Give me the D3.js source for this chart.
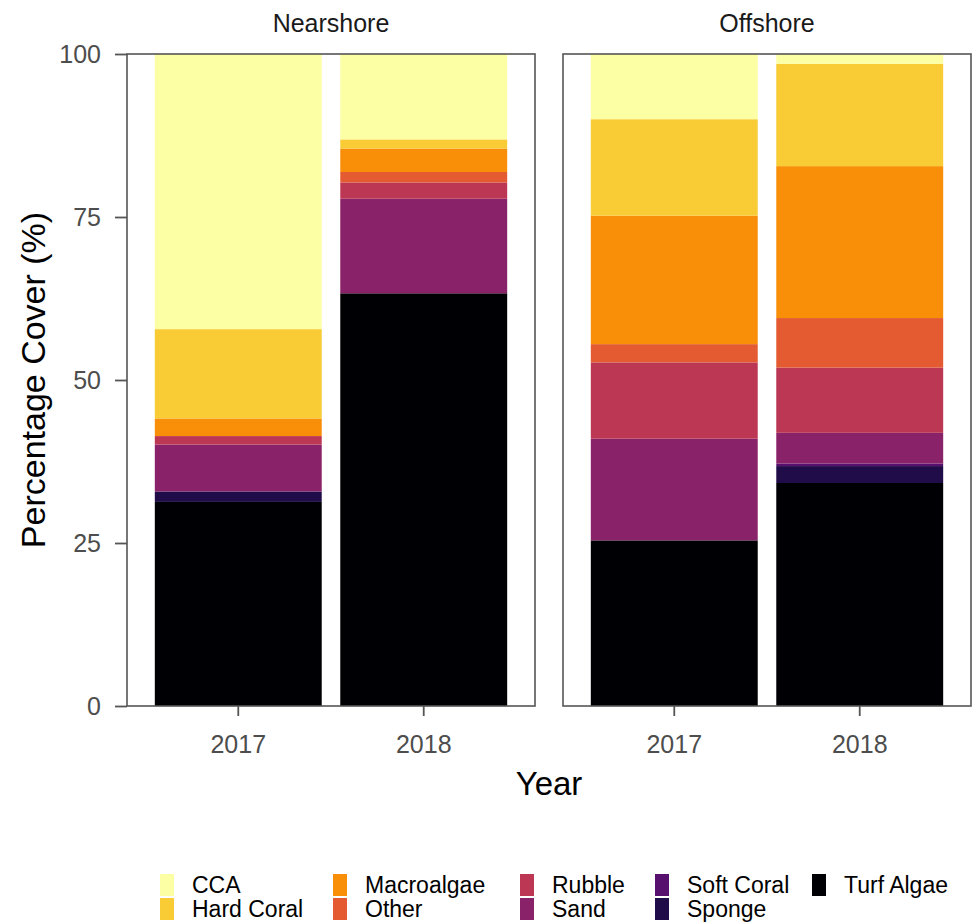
<!DOCTYPE html>
<html>
<head>
<meta charset="utf-8">
<script src="https://cdn.jsdelivr.net/npm/d3@7"></script>
<style>
  body { margin: 0; background: #fff; }
  text { font-family: "Liberation Sans", Arial, sans-serif; }
</style>
</head>
<body>
<div id="chart"></div>
<script>
// data, bars in order: Nearshore 2017, Nearshore 2018, Offshore 2017, Offshore 2018
const sites = ['Nearshore', 'Offshore'];
const years = ['2017', '2018'];
const categories = ['CCA', 'Hard Coral', 'Macroalgae', 'Other', 'Rubble', 'Sand', 'Soft Coral', 'Sponge', 'Turf Algae'];
const cca        = [42.2, 13.1, 10.0, 1.5];
const hardCoral  = [13.7, 1.4, 14.8, 15.7];
const macroalgae = [2.7, 3.6, 19.7, 23.3];
const other      = [0.0, 1.6, 2.8, 7.6];
const rubble     = [1.3, 2.5, 11.7, 10.0];
const sand       = [7.2, 14.5, 15.6, 4.7];
const softCoral  = [0.0, 0.0, 0.0, 0.4];
const sponge     = [1.6, 0.0, 0.0, 2.6];
const turfAlgae  = [31.3, 63.3, 25.4, 34.2];
const yTicks = [0, 25, 50, 75, 100];

const seriesByCat = {
    'CCA': cca, 'Hard Coral': hardCoral, 'Macroalgae': macroalgae, 'Other': other,
    'Rubble': rubble, 'Sand': sand, 'Soft Coral': softCoral, 'Sponge': sponge, 'Turf Algae': turfAlgae
};

const rows = [];
sites.forEach((s, si) => {
    years.forEach((y, yi) => {
        const r = { site: s, year: y };
        categories.forEach(c => { r[c] = seriesByCat[c][si * 2 + yi]; });
        rows.push(r);
    });
});

const width = 979, height = 923;
const panelTop = 54, panelBottom = 706;
const panelW = 408;
const panelX = [127, 563];

const svg = d3.select('#chart').append('svg')
    .attr('width', width)
    .attr('height', height);

const color = d3.scaleOrdinal()
    .domain(categories)
    .range(categories.map((c, i) => d3.interpolateInferno(1 - i / 8)));

const x = d3.scaleBand().domain(years).range([0, panelW])
    .paddingInner(0.1).paddingOuter(0.15);
const y = d3.scaleLinear().domain([0, 100]).range([panelBottom - panelTop, 0]);

// stack bottom-up: Turf Algae first
const stack = d3.stack().keys(categories.slice().reverse());

sites.forEach((site, si) => {
    const g = svg.append('g')
        .attr('transform', 'translate(' + panelX[si] + ',' + panelTop + ')');
    const siteRows = rows.filter(r => r.site === site);
    const layers = stack(siteRows);

    g.selectAll('g.layer')
        .data(layers)
        .enter().append('g')
        .attr('class', 'layer')
        .attr('fill', d => color(d.key))
        .selectAll('rect')
        .data(d => d)
        .enter().append('rect')
        .attr('x', d => x(d.data.year))
        .attr('width', x.bandwidth())
        .attr('y', d => y(d[1]))
        .attr('height', d => y(d[0]) - y(d[1]));

    // panel border
    g.append('rect')
        .attr('x', 0).attr('y', 0)
        .attr('width', panelW).attr('height', panelBottom - panelTop)
        .attr('fill', 'none')
        .attr('stroke', '#555')
        .attr('stroke-width', 1.6);

    // x axis
    const xa = g.append('g')
        .attr('transform', 'translate(0,' + (panelBottom - panelTop) + ')')
        .call(d3.axisBottom(x).tickSize(10).tickPadding(19));
    xa.select('.domain').remove();
    xa.selectAll('line').attr('stroke', '#555').attr('stroke-width', 1.8);
    xa.selectAll('text').attr('fill', '#4d4d4d').style('font-size', '25px');

    if (si === 0) {
        const ya = g.append('g')
            .call(d3.axisLeft(y).tickValues(yTicks).tickSize(12).tickPadding(14));
        ya.select('.domain').remove();
        ya.selectAll('line').attr('stroke', '#555').attr('stroke-width', 1.8);
        ya.selectAll('text').attr('fill', '#4d4d4d').style('font-size', '25px');
    }

    // strip label
    svg.append('text')
        .attr('x', panelX[si] + panelW / 2)
        .attr('y', 32)
        .attr('text-anchor', 'middle')
        .attr('fill', '#1a1a1a')
        .style('font-size', '25px')
        .text(site);
});

// axis titles
svg.append('text')
    .attr('x', (panelX[0] + panelX[1] + panelW) / 2)
    .attr('y', 795)
    .attr('text-anchor', 'middle')
    .attr('fill', '#000')
    .style('font-size', '33px')
    .text('Year');

svg.append('text')
    .attr('transform', 'translate(45,' + (panelTop + panelBottom) / 2 + ') rotate(-90)')
    .attr('text-anchor', 'middle')
    .attr('fill', '#000')
    .style('font-size', '34px')
    .text('Percentage Cover (%)');

// legend, 2 rows filled by column
const colX = [160, 333, 520, 655, 812];
const rowY = [874, 898];
const legend = svg.append('g').attr('class', 'legend');
const items = legend.selectAll('g')
    .data(categories)
    .enter().append('g')
    .attr('transform', (d, i) => 'translate(' + colX[Math.floor(i / 2)] + ',' + rowY[i % 2] + ')');
items.append('rect')
    .attr('width', 14).attr('height', 22)
    .attr('fill', d => color(d));
items.append('text')
    .attr('x', 32)
    .attr('y', 19)
    .attr('fill', '#000')
    .style('font-size', '23px')
    .text(d => d);
</script>
</body>
</html>
